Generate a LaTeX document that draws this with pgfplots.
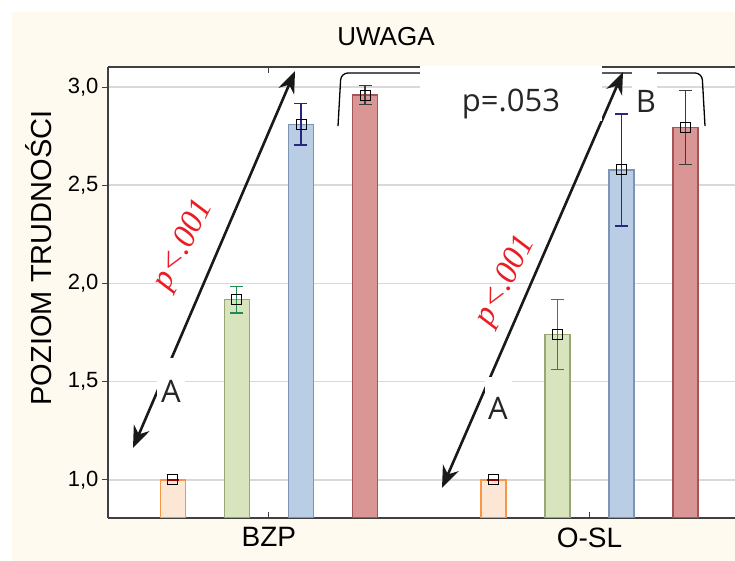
\documentclass[border=0pt]{standalone}
\usepackage{pgfplots}
\pgfplotsset{compat=1.18}
\usepackage{fontspec}
\setmainfont{Liberation Sans}
\newfontfamily\osans{Open Sans}
\newfontfamily\serif{Liberation Serif}
\usetikzlibrary{arrows.meta}
\definecolor{cream}{RGB}{255,250,240}
\definecolor{orfill}{RGB}{252,230,214}
\definecolor{ordraw}{RGB}{247,150,70}
\definecolor{grfill}{RGB}{215,228,189}
\definecolor{grdraw}{RGB}{152,168,114}
\definecolor{grerr}{RGB}{30,140,80}
\definecolor{blfill}{RGB}{185,205,229}
\definecolor{bldraw}{RGB}{125,148,180}
\definecolor{blerr}{RGB}{40,40,130}
\definecolor{rdfill}{RGB}{217,150,148}
\definecolor{rddraw}{RGB}{165,85,85}
\definecolor{rderr}{RGB}{60,60,60}
\definecolor{pred}{RGB}{237,28,36}
\definecolor{axgray}{RGB}{64,64,64}
\definecolor{gridgray}{RGB}{217,217,217}
\begin{document}
\begin{tikzpicture}
\useasboundingbox (0pt,0pt) rectangle (735pt,561pt);
\fill[white] (0pt,0pt) rectangle (735pt,561pt);
\fill[cream] (12pt,0pt) rectangle (735pt,549pt);
\begin{axis}[
  at={(108pt,43pt)}, anchor=south west,
  scale only axis, width=627pt, height=451pt,
  xmin=-0.502, xmax=1.454, ymin=0.806, ymax=3.102,
  axis x line*=box, axis y line*=left,
  axis line style={axgray, line width=1.2pt},
  axis background/.style={fill=white},
  xtick={0,1}, xticklabels={BZP,O-SL},
  xtick align=inside, ytick align=outside,
  ytick={1,1.5,2,2.5,3}, yticklabels={{1,0},{1,5},{2,0},{2,5},{3,0}},
  major tick length=6pt,
  tick style={axgray, line width=1pt},
  ymajorgrids, grid style={gridgray, line width=1.5pt},
  xticklabel style={font=\fontsize{28}{30}\selectfont, yshift=-6pt},
  yticklabel style={font=\fontsize{22}{24}\selectfont},
]
\addplot[ybar, bar width=25pt, bar shift=0pt, fill=orfill, draw=ordraw, line width=1.5pt,
  error bars/.cd, y dir=both, y explicit,
  error bar style={red!60!black, line width=1.2pt},
  error mark options={rotate=90, mark size=6pt, red!60!black, line width=1.2pt}]
  coordinates {(-0.3,1.0) +- (0,0.004) (0.7,1.0) +- (0,0.004)};
\addplot[ybar, bar width=25pt, bar shift=0pt, fill=grfill, draw=grdraw, line width=1.5pt,
  error bars/.cd, y dir=both, y explicit,
  error bar style={grerr, line width=1.2pt},
  error mark options={rotate=90, mark size=6.5pt, grerr, line width=1.2pt}]
  coordinates {(-0.1,1.918) +- (0,0.068) (0.9,1.741) +- (0,0.177)};
\addplot[ybar, bar width=25pt, bar shift=0pt, fill=blfill, draw=bldraw, line width=1.5pt,
  error bars/.cd, y dir=both, y explicit,
  error bar style={blerr, line width=1.2pt},
  error mark options={rotate=90, mark size=6.5pt, blerr, line width=1.2pt}]
  coordinates {(0.1,2.810) +- (0,0.105) (1.1,2.578) +- (0,0.285)};
\addplot[ybar, bar width=25pt, bar shift=0pt, fill=rdfill, draw=rddraw, line width=1.5pt,
  error bars/.cd, y dir=both, y explicit,
  error bar style={rderr, line width=1.2pt},
  error mark options={rotate=90, mark size=6.5pt, rderr, line width=1.2pt}]
  coordinates {(0.3,2.959) +- (0,0.047) (1.3,2.794) +- (0,0.190)};
\addplot[only marks, mark=square, mark size=5pt, mark options={draw=black, line width=0.9pt, fill=none}]
  coordinates {(-0.3,1.0) (-0.1,1.918) (0.1,2.810) (0.3,2.959) (0.7,1.0) (0.9,1.741) (1.1,2.578) (1.3,2.794)};
\end{axis}
\node[font=\fontsize{26}{28}\selectfont] at (386pt,524pt) {UWAGA};
\node[rotate=90, font=\fontsize{29}{31}\selectfont] at (39pt,303pt) {POZIOM TRUDNOŚCI};
\begin{scope}[shift={(0pt,561pt)}, x=1pt, y=-1pt]
  \draw[black, line width=1.3pt, rounded corners=7pt] (338,126) -- (341,73) -- (702,73) -- (705,126);
  \draw[line width=2.6pt, black!90, {Stealth[length=22pt,width=17pt]}-{Stealth[length=22pt,width=17pt]}] (133,448) -- (295,71);
  \draw[line width=2.6pt, black!90, {Stealth[length=22pt,width=17pt]}-{Stealth[length=22pt,width=17pt]}] (442,488) -- (623,72);
  \fill[white] (420,66) rectangle (602,121);
  \fill[white] (632,70) rectangle (657,125);
  \fill[white] (157,358) rectangle (185,406);
  \fill[white] (485,377) rectangle (512,424);
  \node[font=\osans\fontsize{31}{33}\selectfont, anchor=base, inner sep=0pt, text=black!85] at (511,112) {p=.053};
  \node[font=\osans\fontsize{31}{33}\selectfont, anchor=base, inner sep=0pt, text=black!85] at (646,113) {B};
  \node[font=\osans\fontsize{31}{33}\selectfont, anchor=base, inner sep=0pt, text=black!85] at (171,403) {A};
  \node[font=\osans\fontsize{31}{33}\selectfont, anchor=base, inner sep=0pt, text=black!85] at (498,420) {A};
  \node[font=\serif\itshape\fontsize{33}{35}\selectfont, text=pred, rotate=63, inner sep=0pt] at (184,245) {p<.001};
  \node[font=\serif\itshape\fontsize{33}{35}\selectfont, text=pred, rotate=63, inner sep=0pt] at (506,281) {p<.001};
\end{scope}
\end{tikzpicture}
\end{document}
